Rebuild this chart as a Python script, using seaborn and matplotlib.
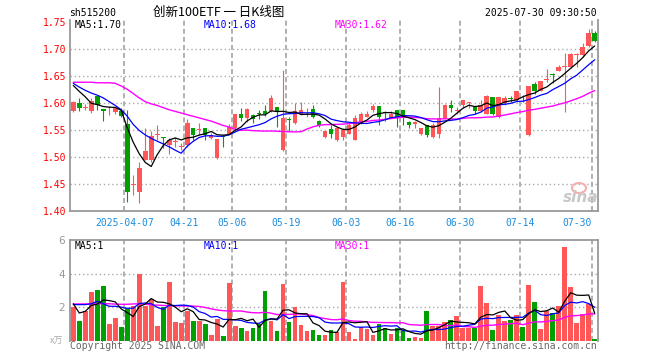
import math
import numpy as np
import pandas as pd
import matplotlib
matplotlib.use("Agg")
import matplotlib.pyplot as plt
from matplotlib.patches import Ellipse
import seaborn as sns

# ---- data (sh515200, daily) ----
opens = [1.586, 1.600, 1.592, 1.585, 1.613, 1.590, 1.585, 1.583, 1.586, 1.562,
         1.449, 1.436, 1.495, 1.495, 1.542, 1.537, 1.523, 1.528, 1.520, 1.523,
         1.554, 1.551, 1.555, 1.536, 1.498, 1.539, 1.544, 1.554, 1.581, 1.572,
         1.578, 1.582, 1.585, 1.585, 1.594, 1.514, 1.571, 1.563, 1.581, 1.583,
         1.590, 1.567, 1.538, 1.552, 1.532, 1.538, 1.544, 1.532, 1.563, 1.575,
         1.588, 1.595, 1.583, 1.572, 1.588, 1.588, 1.565, 1.561, 1.543, 1.559,
         1.538, 1.543, 1.572, 1.596, 1.586, 1.597, 1.600, 1.594, 1.585, 1.581,
         1.611, 1.575, 1.600, 1.610, 1.606, 1.610, 1.541, 1.636, 1.623, 1.644,
         1.653, 1.659, 1.668, 1.668, 1.689, 1.690, 1.707, 1.730]
highs = [1.605, 1.609, 1.598, 1.609, 1.613, 1.590, 1.595, 1.594, 1.591, 1.587,
         1.467, 1.491, 1.554, 1.548, 1.559, 1.537, 1.535, 1.538, 1.526, 1.570,
         1.554, 1.563, 1.555, 1.545, 1.533, 1.541, 1.561, 1.581, 1.592, 1.591,
         1.581, 1.588, 1.597, 1.615, 1.594, 1.662, 1.575, 1.601, 1.603, 1.591,
         1.597, 1.569, 1.549, 1.560, 1.556, 1.554, 1.563, 1.578, 1.583, 1.585,
         1.598, 1.595, 1.586, 1.585, 1.588, 1.588, 1.567, 1.567, 1.554, 1.559,
         1.563, 1.631, 1.598, 1.606, 1.594, 1.606, 1.603, 1.594, 1.606, 1.615,
         1.611, 1.612, 1.614, 1.614, 1.623, 1.615, 1.632, 1.640, 1.642, 1.663,
         1.657, 1.671, 1.694, 1.694, 1.693, 1.711, 1.738, 1.733]
lows = [1.583, 1.585, 1.588, 1.582, 1.588, 1.567, 1.578, 1.580, 1.575, 1.418,
        1.430, 1.415, 1.495, 1.491, 1.532, 1.517, 1.507, 1.520, 1.514, 1.520,
        1.532, 1.541, 1.532, 1.534, 1.496, 1.520, 1.543, 1.551, 1.567, 1.566,
        1.563, 1.570, 1.577, 1.583, 1.557, 1.511, 1.548, 1.562, 1.578, 1.575,
        1.572, 1.557, 1.535, 1.535, 1.530, 1.532, 1.544, 1.532, 1.561, 1.574,
        1.583, 1.560, 1.568, 1.572, 1.557, 1.560, 1.554, 1.554, 1.541, 1.538,
        1.535, 1.535, 1.572, 1.583, 1.581, 1.591, 1.591, 1.581, 1.583, 1.581,
        1.578, 1.573, 1.597, 1.603, 1.603, 1.603, 1.539, 1.617, 1.622, 1.639,
        1.638, 1.659, 1.583, 1.665, 1.668, 1.686, 1.705, 1.714]
closes = [1.603, 1.592, 1.593, 1.604, 1.596, 1.585, 1.586, 1.591, 1.577, 1.435,
          1.450, 1.480, 1.511, 1.539, 1.544, 1.535, 1.532, 1.529, 1.521, 1.563,
          1.541, 1.552, 1.541, 1.542, 1.533, 1.537, 1.557, 1.581, 1.573, 1.589,
          1.570, 1.580, 1.581, 1.610, 1.583, 1.572, 1.569, 1.585, 1.588, 1.584,
          1.574, 1.560, 1.549, 1.543, 1.555, 1.551, 1.560, 1.572, 1.581, 1.581,
          1.595, 1.575, 1.582, 1.581, 1.572, 1.572, 1.559, 1.565, 1.554, 1.541,
          1.560, 1.573, 1.597, 1.591, 1.587, 1.606, 1.601, 1.585, 1.597, 1.614,
          1.581, 1.611, 1.609, 1.608, 1.623, 1.609, 1.632, 1.623, 1.642, 1.645,
          1.652, 1.668, 1.669, 1.691, 1.690, 1.705, 1.730, 1.715]
volumes = [2.03, 1.17, 1.77, 2.92, 3.02, 3.26, 0.99, 1.37, 0.83, 1.93,
           2.09, 3.96, 2.09, 2.49, 0.89, 2.01, 3.52, 1.13, 1.07, 1.77,
           1.17, 1.17, 0.99, 0.34, 1.29, 0.28, 3.44, 0.89, 0.76, 0.58,
           0.76, 0.99, 2.96, 1.17, 0.58, 3.38, 1.11, 2.03, 0.93, 0.58,
           0.64, 0.34, 0.34, 0.64, 0.54, 3.52, 0.54, 0.10, 0.80, 0.70,
           0.34, 0.99, 0.76, 0.40, 0.76, 0.64, 0.16, 0.22, 0.16, 1.77,
           0.87, 0.87, 1.11, 1.23, 1.49, 0.76, 0.76, 0.76, 3.26, 2.25,
           0.64, 1.53, 1.17, 1.23, 1.53, 0.82, 3.32, 2.31, 0.70, 1.77,
           1.65, 2.07, 5.59, 3.20, 1.05, 1.59, 2.19, 0.10]

# moving-average values at the left edge (history before the window)
ma5_head = [1.633, 1.622, 1.612, 1.600]
ma10_head = [1.637, 1.630, 1.624, 1.619, 1.615, 1.610, 1.603, 1.596, 1.588]
ma30_head = [1.639, 1.639, 1.639, 1.639, 1.638, 1.638, 1.638, 1.637, 1.632, 1.626,
             1.618, 1.610, 1.603, 1.599, 1.596, 1.592, 1.588, 1.585, 1.582, 1.579,
             1.576, 1.573, 1.570, 1.567, 1.563, 1.559, 1.556, 1.552, 1.550]
vma5_head = [2.20, 1.65, 1.75, 2.10]
vma10_head = [2.15, 2.15, 2.15, 2.20, 2.35, 2.20, 2.05, 2.05, 2.00]
vma30_head = [2.19, 2.19, 2.19, 2.19, 2.20, 2.21, 2.20, 2.18, 2.17, 2.17,
              2.19, 2.20, 2.17, 2.13, 2.12, 2.10, 2.09, 2.08, 2.07, 2.07,
              2.06, 2.04, 1.98, 1.90, 1.83, 1.79, 1.77, 1.77, 1.77]

date_idx = [9, 19, 27, 36, 46, 55, 65, 75, 87]
date_labels = ["2025-04-07", "04-21", "05-06", "05-19", "06-03", "06-16", "06-30", "07-14", "07-30"]
price_ticks = [1.40, 1.45, 1.50, 1.55, 1.60, 1.65, 1.70, 1.75]
vol_ticks = [2, 4, 6]

code = "sh515200"
title = "创新100ETF 一 日K线图"
stamp = "2025-07-30 09:30:50"


def with_head(values, head, n):
    s = pd.Series(values).rolling(n).mean()
    s.iloc[:len(head)] = head
    return s.values


idx = np.arange(len(closes))
o = np.array(opens); c = np.array(closes)
ma5 = with_head(closes, ma5_head, 5)
ma10 = with_head(closes, ma10_head, 10)
ma30 = with_head(closes, ma30_head, 30)
vma5 = with_head(volumes, vma5_head, 5)
vma10 = with_head(volumes, vma10_head, 10)
vma30 = with_head(volumes, vma30_head, 30)

sns.set_style("white")
plt.rcParams["font.family"] = ["DejaVu Sans Mono"]
plt.rcParams["lines.scale_dashes"] = False

RED = "#ff5757"
GREEN = "#00a000"
GRID = "#aaaaaa"
SPINE = "#999999"
colors = [RED if cc >= oo else GREEN for oo, cc in zip(o, c)]

W, H = 660, 360
fig = plt.figure(figsize=(W / 100, H / 100), dpi=100)
ax = fig.add_axes([70.3 / W, 1 - 211.3 / H, 527.4 / W, 191.3 / H])
axv = fig.add_axes([70.3 / W, 1 - 340.7 / H, 527.4 / W, 100.7 / H])

# ---- price panel ----
for a in (ax, axv):
    a.set_xlim(-0.5, len(closes) - 0.5)
    for k in date_idx:
        a.axvline(k - 0.5, color=GRID, lw=1.3, ls=(0, (3.6, 2.2)), zorder=0)
    for s in a.spines.values():
        s.set_color(SPINE)
        s.set_linewidth(1.3)

ax.set_ylim(1.40, 1.40 + 191.3 / 540)
for p in price_ticks[1:-1]:
    ax.axhline(p, color=GRID, lw=1.0, ls=(0, (1, 2)), zorder=0)

body_h = np.maximum(np.abs(c - o), 0.0015)
ax.vlines(idx, lows, highs, colors=colors, lw=0.8, zorder=2)
ax.bar(idx, body_h, bottom=np.minimum(o, c), width=0.78, color=colors, lw=0, zorder=3)

sns.lineplot(x=idx, y=ma30, ax=ax, color="#ff00ff", lw=1.0, zorder=4)
sns.lineplot(x=idx, y=ma10, ax=ax, color="#0000ff", lw=0.9, zorder=5)
sns.lineplot(x=idx, y=ma5, ax=ax, color="black", lw=0.9, zorder=6)

ax.spines["top"].set_visible(False)
ax.set_yticks(price_ticks)
ax.set_yticklabels([f"{p:.2f}" for p in price_ticks])
ax.set_xticks([k - 0.5 for k in date_idx])
ax.set_xticklabels(date_labels)
ax.tick_params(axis="y", length=0, pad=3, labelcolor="red", labelsize=7)
ax.tick_params(axis="x", length=0, pad=4.5, labelcolor="#1a8cdc", labelsize=7)
ax.get_xticklabels()[-1].set_horizontalalignment("right")
ax.set_xlabel(""); ax.set_ylabel("")


def trunc(v, d):
    f = 10 ** d
    return math.floor(v * f + 1e-9) / f


ax.text(75 / 527.4 * 0 + 0.009, 0.975, f"MA5:{trunc(ma5[-1], 2):.2f}", transform=ax.transAxes,
        color="black", fontsize=7, va="center", ha="left")
ax.text((204 - 70.3) / 527.4, 0.975, f"MA10:{trunc(ma10[-1], 2):.2f}", transform=ax.transAxes,
        color="#0000ff", fontsize=7, va="center", ha="left")
ax.text((334.7 - 70.3) / 527.4, 0.975, f"MA30:{trunc(ma30[-1], 2):.2f}", transform=ax.transAxes,
        color="#ff00ff", fontsize=7, va="center", ha="left")

# ---- volume panel ----
axv.set_ylim(0, 6)
for v in vol_ticks[:-1]:
    axv.axhline(v, color=GRID, lw=1.0, ls=(0, (1, 2)), zorder=0)
axv.bar(idx, volumes, width=0.8, color=colors, lw=0, zorder=2)
sns.lineplot(x=idx, y=vma30, ax=axv, color="#ff00ff", lw=1.0, zorder=4)
sns.lineplot(x=idx, y=vma10, ax=axv, color="#0000ff", lw=0.9, zorder=5)
sns.lineplot(x=idx, y=vma5, ax=axv, color="black", lw=0.9, zorder=6)
axv.spines["bottom"].set_visible(False)
axv.set_xticks([])
axv.set_yticks(vol_ticks)
axv.set_yticklabels([str(v) for v in vol_ticks], family="DejaVu Sans")
axv.tick_params(axis="y", length=0, pad=4, labelcolor="#999999", labelsize=7.5)
axv.set_xlabel(""); axv.set_ylabel("")

axv.text(0.009, 0.94, f"MA5:{int(vma5[-1])}", transform=axv.transAxes,
         color="black", fontsize=7, va="center", ha="left")
axv.text((204 - 70.3) / 527.4, 0.94, f"MA10:{int(vma10[-1])}", transform=axv.transAxes,
         color="#0000ff", fontsize=7, va="center", ha="left")
axv.text((334.7 - 70.3) / 527.4, 0.94, f"MA30:{int(vma30[-1])}", transform=axv.transAxes,
         color="#ff00ff", fontsize=7, va="center", ha="left")

# ---- header / footer texts ----
fig.text(69.5 / W, 1 - 12.5 / H, code, fontsize=7, va="center", ha="left", color="black")
fig.text(219 / W, 1 - 12 / H, title, fontsize=9, va="center", ha="center", color="black",
         family=["Noto Sans CJK SC", "DejaVu Sans"])
fig.text(597 / W, 1 - 12.5 / H, stamp, fontsize=7, va="center", ha="right", color="black")
fig.text(63 / W, 1 - 341.5 / H, "x万", fontsize=6.5, va="center", ha="right", color="#aaaaaa",
         family=["Noto Sans CJK SC", "DejaVu Sans"])
fig.text(69.5 / W, 1 - 346 / H, "Copyright 2025 SINA.COM", fontsize=7, va="center", ha="left",
         color="#666666")
fig.text(597 / W, 1 - 346 / H, "http://finance.sina.com.cn", fontsize=7, va="center", ha="right",
         color="#666666")

# sina watermark
fig.text(581 / W, 1 - 197 / H, "sina", fontsize=11, style="italic", weight="bold", va="center",
         ha="center", color="#c8c8c8", family="DejaVu Sans")
fig.patches.append(Ellipse((579 / W, 1 - 188 / H), 14 / W, 10 / H, transform=fig.transFigure,
                           fill=False, ec="#f4b0b0", lw=1.5))

fig.savefig("out.png", dpi=100)
